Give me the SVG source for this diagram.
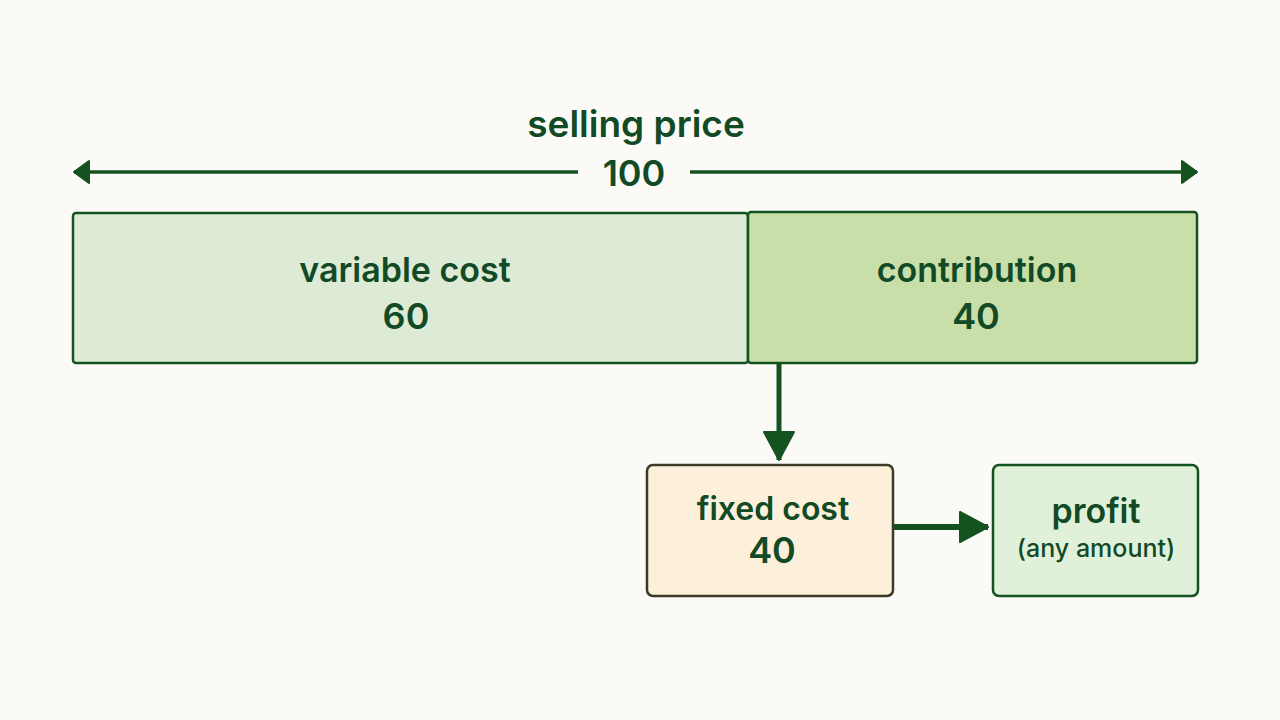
<svg xmlns="http://www.w3.org/2000/svg" width="1280" height="720" viewBox="0 0 1280 720">
<style>
.t{font-family:Inter,"Open Sans","Liberation Sans",sans-serif;fill:#114a25;text-anchor:middle;font-weight:600}
.lbl{font-size:34px}
.num{font-size:36px}
.sub{font-size:25px;font-weight:500}
.ln{stroke:#14521f;fill:none}
</style>
<defs>
<marker id="ah" markerUnits="userSpaceOnUse" markerWidth="32" markerHeight="34" refX="30" refY="17" orient="auto">
<path d="M2,2 L30,17 L2,32 Z" fill="#14521f" stroke="#14521f" stroke-width="2" stroke-linejoin="round"/>
</marker>
<marker id="ahs" markerUnits="userSpaceOnUse" markerWidth="20" markerHeight="28" refX="18" refY="14" orient="auto-start-reverse">
<path d="M3,3 L18,14 L3,25 Z" fill="#14521f" stroke="#14521f" stroke-width="2" stroke-linejoin="round"/>
</marker>
</defs>
<rect width="1280" height="720" fill="#fbfaf7"/>
<g id="connectors">
<line class="ln" x1="74" y1="172" x2="578" y2="172" stroke-width="3.5" marker-start="url(#ahs)"/>
<line class="ln" x1="690" y1="172" x2="1197" y2="172" stroke-width="3.5" marker-end="url(#ahs)"/>
<line class="ln" x1="779" y1="364" x2="779" y2="460" stroke-width="5" marker-end="url(#ah)"/>
<line class="ln" x1="894" y1="527" x2="988" y2="527" stroke-width="6" marker-end="url(#ah)"/>
</g>
<g id="selling-price">
<text class="t" x="636" y="137" font-size="37">selling price</text>
<text class="t num" x="634" y="186">100</text>
</g>
<g id="variable-cost">
<rect x="73" y="213" width="675" height="150" rx="3" fill="#ddebd6" stroke="#14521f" stroke-width="2.5"/>
<text class="t lbl" x="405" y="282">variable cost</text>
<text class="t num" x="406" y="329">60</text>
</g>
<g id="contribution">
<rect x="748" y="212" width="449" height="151" rx="3" fill="#c8dfaa" stroke="#14521f" stroke-width="2.5"/>
<text class="t lbl" x="977" y="282">contribution</text>
<text class="t num" x="976" y="329">40</text>
</g>
<g id="fixed-cost">
<rect x="647" y="465" width="246" height="131" rx="6" fill="#fdf0da" stroke="#3b3a26" stroke-width="2.5"/>
<text class="t" x="773" y="520" font-size="32">fixed cost</text>
<text class="t num" x="772" y="563">40</text>
</g>
<g id="profit">
<rect x="993" y="465" width="205" height="131" rx="6" fill="#e1f1d9" stroke="#14521f" stroke-width="2.5"/>
<text class="t lbl" x="1096" y="523">profit</text>
<text class="t sub" x="1096" y="557">(any amount)</text>
</g>
</svg>
